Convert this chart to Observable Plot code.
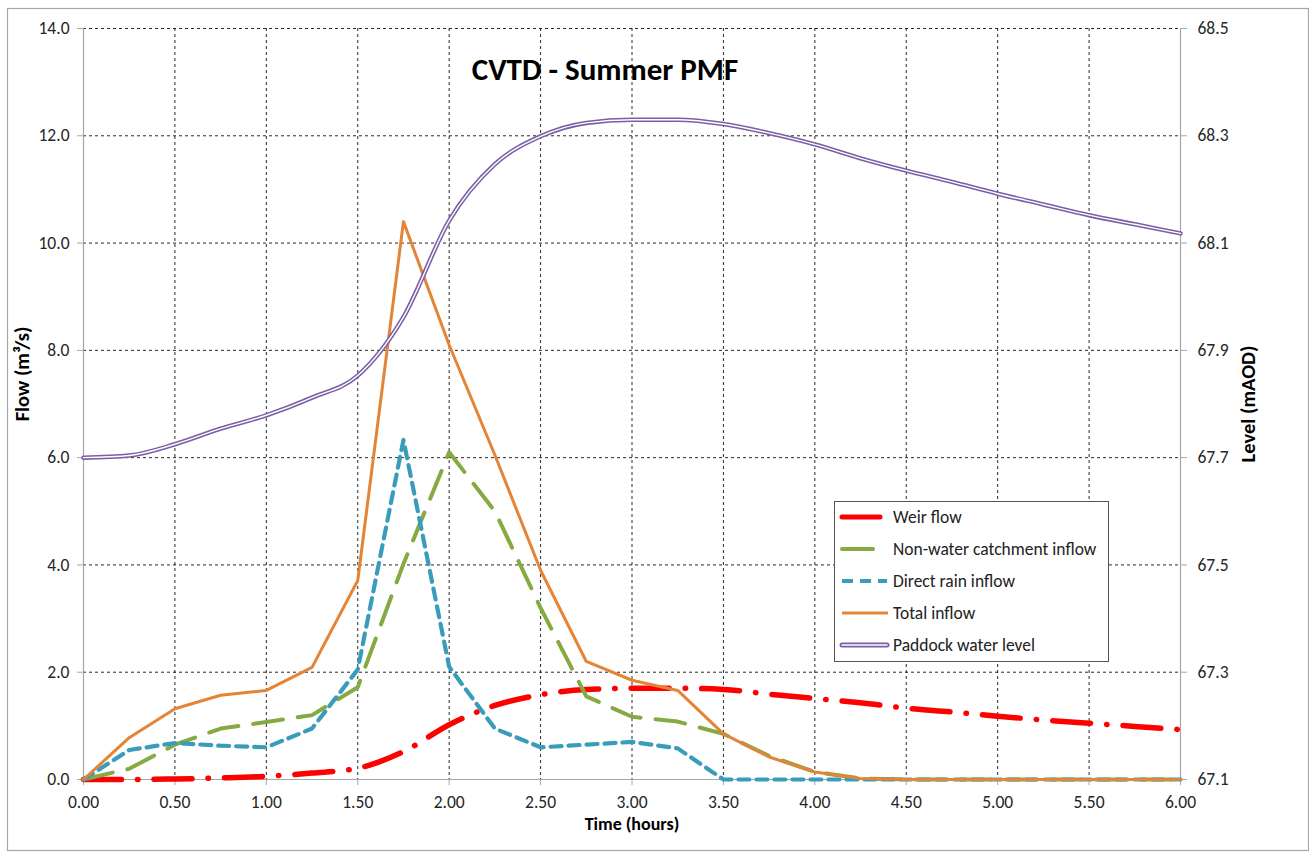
<!DOCTYPE html>
<html>
<head>
<meta charset="utf-8">
<script src="https://cdn.jsdelivr.net/npm/d3@7"></script>
<script src="https://cdn.jsdelivr.net/npm/@observablehq/plot@0.6"></script>
<style>
  html, body { margin: 0; padding: 0; background: #fff; }
  #wrap { position: relative; width: 1309px; height: 854px; }
  #wrap svg { position: absolute; left: 0; top: 0; }
</style>
</head>
<body>
<div id="wrap"></div>
<script>
// ---- data ----
const time = [0,0.25,0.5,0.75,1,1.25,1.5,1.75,2,2.25,2.5,2.75,3,3.25,3.5,3.75,4,4.25,4.5,4.75,5,5.25,5.5,5.75,6];
const weirFlow = [0,0,0.01,0.03,0.06,0.12,0.21,0.52,1.02,1.38,1.58,1.68,1.70,1.70,1.68,1.59,1.51,1.43,1.33,1.26,1.18,1.11,1.05,0.99,0.93];
const nonWaterInflow = [0,0.2,0.65,0.95,1.07,1.2,1.72,4.02,6.1,5.0,3.2,1.55,1.17,1.08,0.85,0.44,0.14,0.02,0,0,0,0,0,0,0];
const directRainInflow = [0,0.55,0.68,0.63,0.6,0.95,2.05,6.33,2.1,0.95,0.6,0.65,0.7,0.58,0,0,0,0,0,0,0,0,0,0,0];
const totalInflow = [0,0.78,1.32,1.57,1.66,2.09,3.71,10.4,8.1,6.05,3.9,2.2,1.85,1.66,0.85,0.42,0.14,0.02,0,0,0,0,0,0,0];
const paddockLevel = [67.700,67.704,67.725,67.754,67.779,67.812,67.853,67.962,68.142,68.247,68.299,68.324,68.330,68.330,68.322,68.305,68.284,68.258,68.235,68.214,68.192,68.172,68.152,68.135,68.118];

const seriesNames = ["Weir flow","Non-water catchment inflow","Direct rain inflow","Total inflow","Paddock water level"];
const xTicks = [0,0.5,1,1.5,2,2.5,3,3.5,4,4.5,5,5.5,6];
const flowTicks = [0,2,4,6,8,10,12,14];
const levelTicks = [67.1,67.3,67.5,67.7,67.9,68.1,68.3,68.5];
const levelBase = 67.1;   // right axis bottom
const levelPerFlow = 0.1; // 14 flow units <-> 1.4 m

const title = "CVTD - Summer PMF";
const xLabel = "Time (hours)";
const yLabel = "Flow (m³/s)";
const y2Label = "Level (mAOD)";

// ---- styles ----
const C = {
  weir: "#ff0000",
  green: "#86aa42",
  blue: "#3a9cbb",
  orange: "#e38436",
  purple: "#7a5ea6"
};
const FONT = "Carlito, Calibri, Lato, 'Open Sans', sans-serif";

const rows = time.map((t, i) => ({
  t,
  weir: weirFlow[i],
  green: nonWaterInflow[i],
  blue: directRainInflow[i],
  orange: totalInflow[i],
  level: paddockLevel[i],
  levelY: (paddockLevel[i] - levelBase) / levelPerFlow
}));

const chart = Plot.plot({
  width: 1309,
  height: 854,
  marginLeft: 83,
  marginRight: 129,
  marginTop: 28,
  marginBottom: 75,
  style: { fontFamily: FONT, background: "transparent", color: "#333" },
  x: { domain: [0, 6] },
  y: { domain: [0, 14] },
  marks: [
    Plot.gridX(xTicks.filter(d => d > 0 && d < 6), { stroke: "#111", strokeOpacity: 0.9, strokeDasharray: "3,3", strokeWidth: 1 }),
    Plot.gridY(flowTicks.filter(d => d > 0), { stroke: "#111", strokeOpacity: 0.9, strokeDasharray: "3,3", strokeWidth: 1 }),
    Plot.ruleX([0, 6], { stroke: "#a6a6a6", strokeWidth: 1.2 }),
    Plot.ruleY([0], { stroke: "#a6a6a6", strokeWidth: 1.2 }),
    Plot.axisX({ ticks: xTicks, tickFormat: d => d.toFixed(2), tickSize: 6, tickPadding: 10, stroke: "#a6a6a6", fill: "#262626", fontSize: 17.5, label: null }),
    Plot.axisY({ anchor: "left", ticks: flowTicks, tickFormat: d => d.toFixed(1), tickSize: 6, tickPadding: 8, stroke: "#a6a6a6", fill: "#262626", fontSize: 17.5, label: null }),
    Plot.axisY({ anchor: "right", ticks: levelTicks.map(v => (v - levelBase) / levelPerFlow), tickFormat: (d, i) => levelTicks[i].toFixed(1), tickSize: 6, tickPadding: 11, stroke: "#a6a6a6", fill: "#262626", fontSize: 17.5, label: null }),
    // series
    Plot.line(rows, { x: "t", y: "weir", stroke: C.weir, strokeWidth: 5.5, strokeDasharray: "38,16,0.5,16", strokeLinecap: "round", curve: "monotone-x" }),
    Plot.line(rows, { x: "t", y: "green", stroke: C.green, strokeWidth: 4, strokeDasharray: "30,15" }),
    Plot.line(rows, { x: "t", y: "blue", stroke: C.blue, strokeWidth: 4.2, strokeDasharray: "11,7" }),
    Plot.line(rows, { x: "t", y: "orange", stroke: C.orange, strokeWidth: 3 }),
    Plot.line(rows, { x: "t", y: "levelY", stroke: C.purple, strokeWidth: 4.5, curve: "monotone-x" }),
    Plot.line(rows, { x: "t", y: "levelY", stroke: "#fff", strokeWidth: 1.4, curve: "monotone-x" }),
    // texts
    Plot.text([title], { frameAnchor: "top", dx: -27, dy: 29, fontSize: 31, fontWeight: "bold", fill: "#000" }),
    Plot.text([xLabel], { frameAnchor: "bottom", dy: 50, fontSize: 18, fontWeight: "bold", fill: "#000" }),
    Plot.text([yLabel], { frameAnchor: "left", dx: -61, dy: -30, rotate: -90, textAnchor: "middle", fontSize: 20.5, fontWeight: "bold", fill: "#000" }),
    Plot.text([y2Label], { frameAnchor: "right", dx: 68, rotate: -90, textAnchor: "middle", fontSize: 20.5, fontWeight: "bold", fill: "#000" })
  ]
});

const wrap = document.getElementById("wrap");
wrap.appendChild(chart);

// outer chart border
d3.select(chart).insert("rect", ":first-child")
  .attr("x", 7.5).attr("y", 8.5).attr("width", 1301).attr("height", 842)
  .attr("fill", "#fff").attr("stroke", "#a6a6a6").attr("stroke-width", 1.2);

// ---- legend (overlay) ----
const lg = d3.select(wrap).append("svg")
  .attr("width", 1309).attr("height", 854)
  .style("pointer-events", "none");
lg.append("rect").attr("x", 834.5).attr("y", 501.5).attr("width", 274).attr("height", 160)
  .attr("fill", "#fff").attr("stroke", "#555").attr("stroke-width", 1);

const legendStyles = [
  { stroke: C.weir, width: 5, x2: 880, dash: null, cap: "round" },
  { stroke: C.green, width: 4, x2: 873, dash: null, cap: "round" },
  { stroke: C.blue, width: 4, x2: 887, dash: "11,7", cap: "butt" },
  { stroke: C.orange, width: 3, x2: 888, dash: null, cap: "butt" },
  { stroke: C.purple, width: 5, x2: 887, dash: null, cap: "round", double: true }
];
seriesNames.forEach((name, i) => {
  const y = 517 + i * 32;
  const s = legendStyles[i];
  lg.append("line").attr("x1", 842).attr("x2", s.x2).attr("y1", y).attr("y2", y)
    .attr("stroke", s.stroke).attr("stroke-width", s.width)
    .attr("stroke-linecap", s.cap).attr("stroke-dasharray", s.dash);
  if (s.double) {
    lg.append("line").attr("x1", 842).attr("x2", s.x2).attr("y1", y).attr("y2", y)
      .attr("stroke", "#fff").attr("stroke-width", 1.5).attr("stroke-linecap", "round");
  }
  lg.append("text").attr("x", 893).attr("y", y).attr("dy", "0.35em")
    .attr("font-family", FONT).attr("font-size", 17.5).attr("fill", "#222")
    .text(name);
});
</script>
</body>
</html>
